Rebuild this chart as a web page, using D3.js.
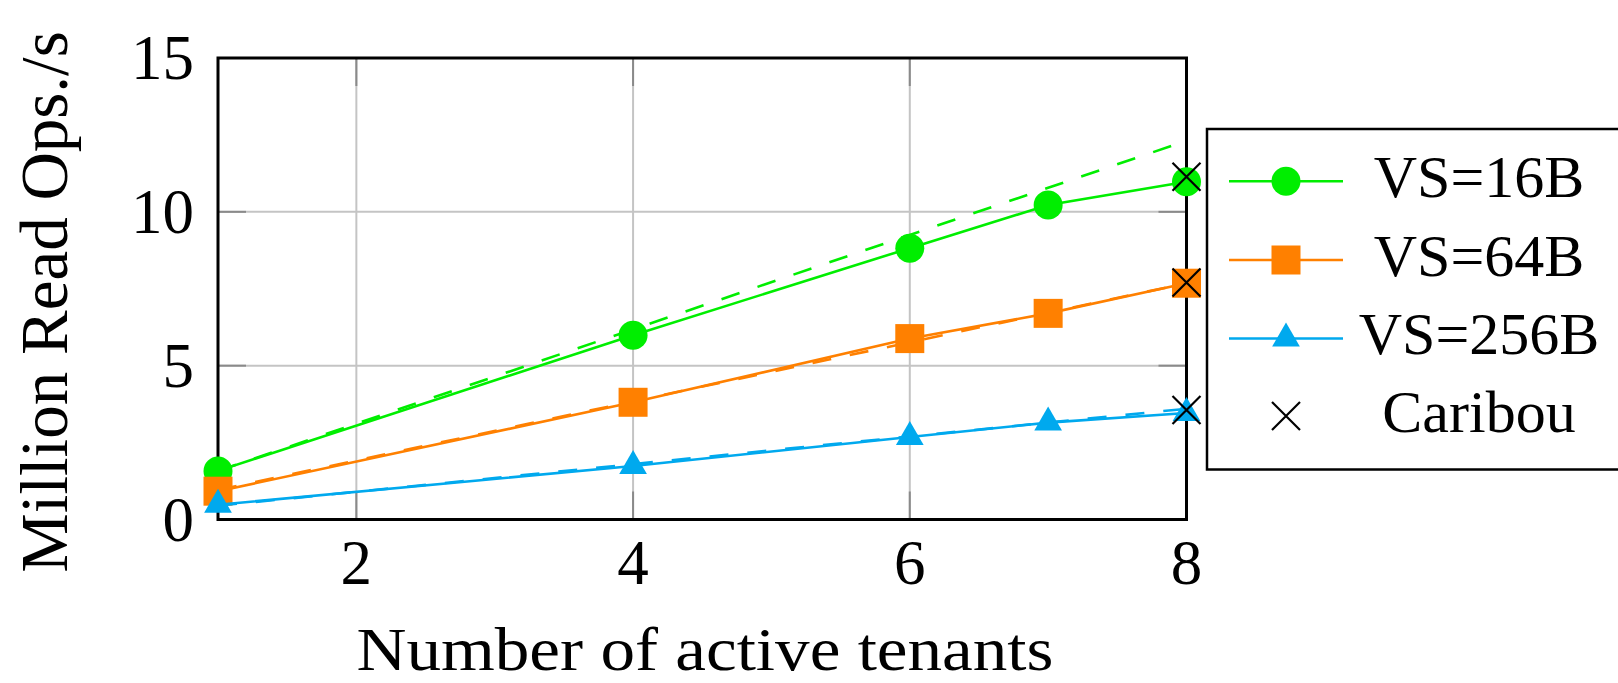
<!DOCTYPE html>
<html>
<head>
<meta charset="utf-8">
<script src="https://cdn.jsdelivr.net/npm/d3@7"></script>
<style>
  html, body { margin: 0; padding: 0; background: #fff; }
  svg { display: block; }
  text { font-family: "Liberation Serif", "Times New Roman", serif; fill: #000; }
</style>
</head>
<body>
<svg id="chart" width="1618" height="683"></svg>
<script>
// ---- data ----
const tenants = [1, 4, 6, 7, 8];
const vs16 = [1.58, 5.99, 8.82, 10.22, 10.98];
const vs16Ideal = [1.58, 6.18, 9.25, 10.78, 12.31];
const vs64 = [0.92, 3.81, 5.88, 6.70, 7.68];
const vs64Ideal = [0.96, 3.84, 5.76, 6.72, 7.68];
const vs256 = [0.48, 1.74, 2.68, 3.15, 3.46];
const vs256Ideal = [0.45, 1.80, 2.70, 3.15, 3.60];
const caribouX = [8, 8, 8];
const caribouY = [11.14, 7.70, 3.56];
const xTicks = [2, 4, 6, 8];
const yTicks = [0, 5, 10, 15];
const seriesNames = ["VS=16B", "VS=64B", "VS=256B"];
const caribouName = "Caribou";
const xLabel = "Number of active tenants";
const yLabel = "Million Read Ops./s";

// ---- layout ----
const svg = d3.select("#chart");
const L = 218, R = 1186.5, T = 58, B = 519.5;
const x = d3.scaleLinear().domain([1, 8]).range([L, R]);
const y = d3.scaleLinear().domain([0, 15]).range([B, T]);

const colors = ["#00ee00", "#ff8000", "#00a9ee"];
const shapes = ["circle", "square", "triangle"];

// grid
const g = svg.append("g");
g.selectAll("line.vg").data(xTicks.filter(d => d < 8)).join("line")
  .attr("x1", d => x(d)).attr("x2", d => x(d)).attr("y1", T).attr("y2", B)
  .attr("stroke", "#c4c4c4").attr("stroke-width", 2);
g.selectAll("line.hg").data(yTicks.filter(d => d > 0 && d < 15)).join("line")
  .attr("x1", L).attr("x2", R).attr("y1", d => y(d)).attr("y2", d => y(d))
  .attr("stroke", "#c4c4c4").attr("stroke-width", 2);

// ticks (darker, inward, both sides)
const tl = 28;
const tk = svg.append("g").attr("stroke", "#8a8a8a").attr("stroke-width", 2);
xTicks.filter(d => d < 8).forEach(d => {
  tk.append("line").attr("x1", x(d)).attr("x2", x(d)).attr("y1", B).attr("y2", B - tl);
  tk.append("line").attr("x1", x(d)).attr("x2", x(d)).attr("y1", T).attr("y2", T + tl);
});
yTicks.filter(d => d > 0 && d < 15).forEach(d => {
  tk.append("line").attr("x1", L).attr("x2", L + tl).attr("y1", y(d)).attr("y2", y(d));
  tk.append("line").attr("x1", R).attr("x2", R - tl).attr("y1", y(d)).attr("y2", y(d));
});

// frame
svg.append("rect").attr("x", L).attr("y", T).attr("width", R - L).attr("height", B - T)
  .attr("fill", "none").attr("stroke", "#000").attr("stroke-width", 3);

// tick labels
svg.append("g").selectAll("text").data(xTicks).join("text")
  .attr("x", d => x(d)).attr("y", 584).attr("text-anchor", "middle")
  .attr("font-size", 63).text(d => d);
svg.append("g").selectAll("text").data(yTicks).join("text")
  .attr("x", 194).attr("y", d => y(d) + 21).attr("text-anchor", "end")
  .attr("font-size", 63).text(d => d);

// axis labels
svg.append("text").attr("x", 705).attr("y", 670).attr("text-anchor", "middle")
  .attr("font-size", 61).attr("textLength", 697).attr("lengthAdjust", "spacingAndGlyphs")
  .text(xLabel);
svg.append("text").attr("transform", "translate(67,302) rotate(-90)")
  .attr("text-anchor", "middle").attr("font-size", 67).text(yLabel);

// marker drawer
function marker(sel, shape, color, cx, cy) {
  if (shape === "circle") {
    sel.append("circle").attr("cx", cx).attr("cy", cy).attr("r", 14.5).attr("fill", color);
  } else if (shape === "square") {
    sel.append("rect").attr("x", cx - 14.5).attr("y", cy - 14.5).attr("width", 29).attr("height", 29).attr("fill", color);
  } else if (shape === "triangle") {
    const r = 16;
    sel.append("path").attr("d", `M${cx},${cy - r}L${cx - 0.866 * r},${cy + 0.5 * r}L${cx + 0.866 * r},${cy + 0.5 * r}Z`).attr("fill", color);
  } else if (shape === "x") {
    const s = 14;
    sel.append("path").attr("d", `M${cx - s},${cy - s}L${cx + s},${cy + s}M${cx - s},${cy + s}L${cx + s},${cy - s}`)
      .attr("stroke", "#000").attr("stroke-width", 2.2).attr("fill", "none");
  }
}

const line = d3.line().x(d => x(d[0])).y(d => y(d[1]));
const series = [vs16, vs64, vs256];
const ideals = [vs16Ideal, vs64Ideal, vs256Ideal];

const plots = svg.append("g");
series.forEach((vals, i) => {
  const pts = tenants.map((t, j) => [t, vals[j]]);
  const ipts = tenants.map((t, j) => [t, ideals[i][j]]);
  plots.append("path").attr("d", line(ipts)).attr("fill", "none")
    .attr("stroke", colors[i]).attr("stroke-width", 2.6).attr("stroke-dasharray", "19,19");
  plots.append("path").attr("d", line(pts)).attr("fill", "none")
    .attr("stroke", colors[i]).attr("stroke-width", 2.6);
  const mg = plots.append("g");
  pts.forEach(p => marker(mg, shapes[i], colors[i], x(p[0]), y(p[1])));
});
const cg = svg.append("g");
caribouX.forEach((cx, i) => marker(cg, "x", "#000", x(cx), y(caribouY[i])));

// legend
const lg = svg.append("g");
lg.append("rect").attr("x", 1207).attr("y", 129).attr("width", 430).attr("height", 340.5)
  .attr("fill", "#fff").attr("stroke", "#000").attr("stroke-width", 2.5);
const rows = [181.3, 260, 338.5, 416];
seriesNames.forEach((name, i) => {
  lg.append("line").attr("x1", 1229).attr("x2", 1343).attr("y1", rows[i]).attr("y2", rows[i])
    .attr("stroke", colors[i]).attr("stroke-width", 2.6);
  marker(lg, shapes[i], colors[i], 1286, rows[i]);
  lg.append("text").attr("x", 1479).attr("y", rows[i] + 15.5).attr("text-anchor", "middle")
    .attr("font-size", 60).text(name);
});
marker(lg, "x", "#000", 1286, rows[3]);
lg.append("text").attr("x", 1479).attr("y", rows[3] + 16).attr("text-anchor", "middle")
  .attr("font-size", 60).text(caribouName);
</script>
</body>
</html>
